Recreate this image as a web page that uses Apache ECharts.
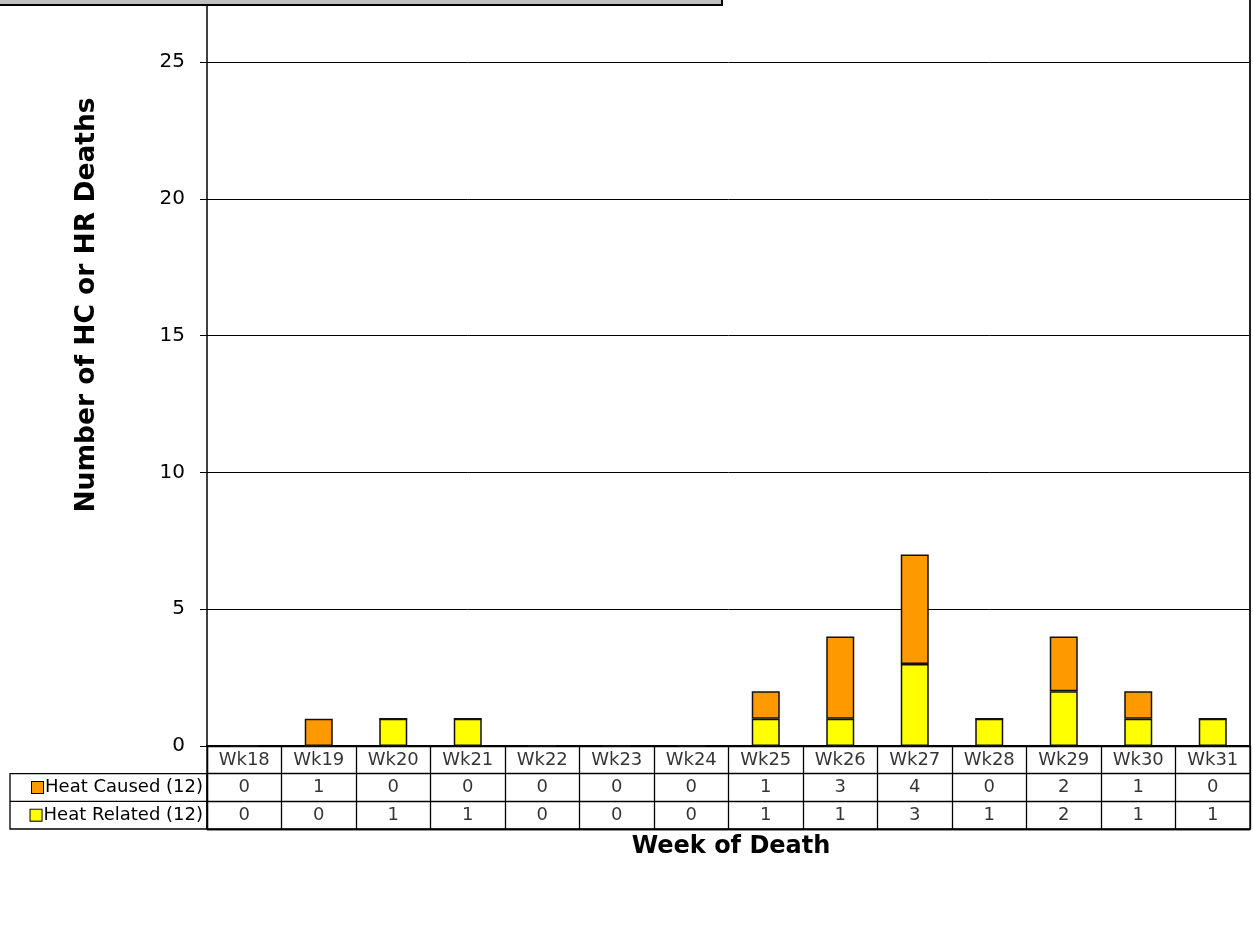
<!DOCTYPE html>
<html>
<head>
<meta charset="utf-8">
<script src="https://cdn.jsdelivr.net/npm/echarts@6/dist/echarts.min.js"></script>
<style>
html,body{margin:0;padding:0;background:#fff;}
#chart{width:1253px;height:934px;}
</style>
</head>
<body>
<div id="chart"></div>
<script>
var categories = ['Wk18','Wk19','Wk20','Wk21','Wk22','Wk23','Wk24','Wk25','Wk26','Wk27','Wk28','Wk29','Wk30','Wk31'];
var heatCaused = [0,1,0,0,0,0,0,1,3,4,0,2,1,0];
var heatRelated = [0,0,1,1,0,0,0,1,1,3,1,2,1,1];
var seriesNames = ['Heat Caused (12)', 'Heat Related (12)'];
var yTitle = 'Number of HC or HR Deaths';
var xTitle = 'Week of Death';

var FONT = 'DejaVu Sans';
var ORANGE = '#FF9900';
var YELLOW = '#FFFF00';

var tableRows = ['', seriesNames[0], seriesNames[1]];
var tableData = [];
categories.forEach(function (c, i) {
  tableData.push([i, 0, c]);
  tableData.push([i, 1, heatCaused[i]]);
  tableData.push([i, 2, heatRelated[i]]);
});

var chart = echarts.init(document.getElementById('chart'), null, {renderer: 'canvas'});
var option = {
  animation: false,
  backgroundColor: '#fff',
  textStyle: {fontFamily: FONT, color: '#000'},
  grid: [
    {left: 207, right: 3, top: 0, bottom: 188, show: false},
    {left: 207, right: 3, top: 746, height: 83, show: true, borderColor: '#000', borderWidth: 1.3}
  ],
  xAxis: [
    {type: 'category', gridIndex: 0, data: categories,
     axisLabel: {show: false}, axisTick: {show: false},
     axisLine: {show: true, lineStyle: {color: '#000', width: 2}}},
    {type: 'category', gridIndex: 1, data: categories, boundaryGap: true,
     axisLabel: {show: false}, axisTick: {show: false},
     axisLine: {show: true, lineStyle: {color: '#000', width: 1.3}},
     splitLine: {show: true, lineStyle: {color: '#000', width: 1.3}}}
  ],
  yAxis: [
    {type: 'value', gridIndex: 0, min: 0, max: 27.27, interval: 5,
     axisLabel: {fontSize: 20, color: '#000', margin: 22, fontFamily: FONT, showMaxLabel: false},
     axisTick: {show: true, inside: false, length: 7, lineStyle: {color: '#000', width: 1}},
     axisLine: {show: true, lineStyle: {color: '#000', width: 1.5}},
     splitLine: {show: true, lineStyle: {color: '#000', width: 1}}},
    {type: 'category', gridIndex: 1, data: tableRows, inverse: true, boundaryGap: true,
     axisTick: {show: false},
     axisLine: {show: true, lineStyle: {color: '#000', width: 1.3}},
     splitLine: {show: true, lineStyle: {color: '#000', width: 1.3}},
     axisLabel: {
       margin: 4, fontSize: 18, color: '#000', fontFamily: FONT,
       formatter: function (v) {
         if (v === seriesNames[0]) return '{o|}{t|' + v + '}';
         if (v === seriesNames[1]) return '{y|}{t|' + v + '}';
         return '';
       },
       rich: {
         o: {width: 11, height: 11, backgroundColor: ORANGE, borderColor: '#000', borderWidth: 1},
         y: {width: 11, height: 11, backgroundColor: YELLOW, borderColor: '#000', borderWidth: 1},
         t: {fontSize: 18, fontFamily: FONT, color: '#000', padding: [0, 0, 0, 2]}
       }
     }}
  ],
  series: [
    {name: seriesNames[1], type: 'bar', stack: 'd', xAxisIndex: 0, yAxisIndex: 0,
     data: heatRelated, barWidth: 28,
     itemStyle: {color: YELLOW, borderColor: '#111', borderWidth: 1.5}},
    {name: seriesNames[0], type: 'bar', stack: 'd', xAxisIndex: 0, yAxisIndex: 0,
     data: heatCaused, barWidth: 28,
     itemStyle: {color: ORANGE, borderColor: '#111', borderWidth: 1.5}},
    {type: 'scatter', xAxisIndex: 1, yAxisIndex: 1, symbolSize: 0, data: tableData,
     label: {show: true, position: 'inside', fontSize: 18, color: '#000', fontFamily: FONT,
       formatter: function (p) { return String(p.value[2]); }}}
  ],
  graphic: [
    {type: 'rect', shape: {x: 723, y: -2, width: 526, height: 3.5}, style: {fill: '#fff'}, z: 15},
    {type: 'line', shape: {x1: 1250, y1: 0, x2: 1250, y2: 746}, style: {stroke: '#222', lineWidth: 2}, z: 16},
    {type: 'rect', shape: {x: 10, y: 773.7, width: 197, height: 55.3}, style: {fill: 'none', stroke: '#000', lineWidth: 1.3}, z: 10},
    {type: 'line', shape: {x1: 10, y1: 801.3, x2: 207, y2: 801.3}, style: {stroke: '#000', lineWidth: 1.3}, z: 10},
    {type: 'rect', shape: {x: -2, y: -2, width: 724, height: 7}, style: {fill: '#c0c0c0', stroke: '#000', lineWidth: 2}, z: 20},
    {type: 'text', x: 87, y: 305, rotation: Math.PI / 2,
     style: {text: yTitle, font: 'bold 26.5px "DejaVu Sans"', fill: '#000', textAlign: 'center', textVerticalAlign: 'middle'}, z: 10},
    {type: 'text', x: 731, y: 847,
     style: {text: xTitle, font: 'bold 24px "DejaVu Sans"', fill: '#000', textAlign: 'center', textVerticalAlign: 'middle'}, z: 10}
  ]
};
chart.setOption(option);
</script>
</body>
</html>
